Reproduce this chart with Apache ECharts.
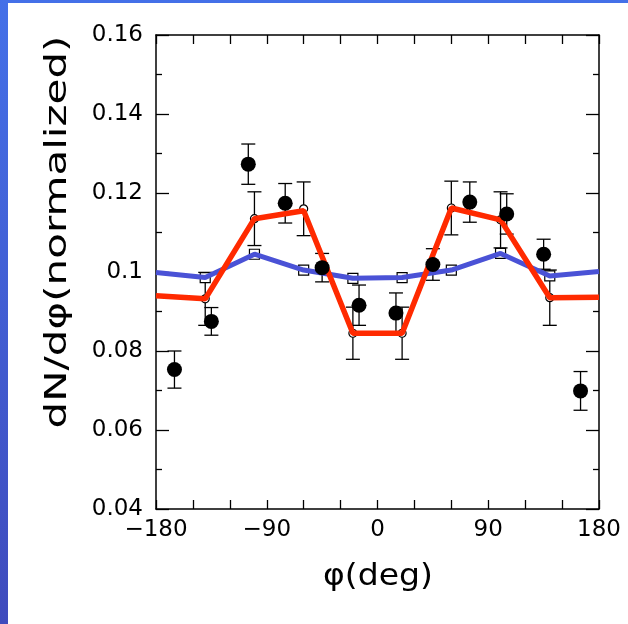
<!DOCTYPE html>
<html>
<head>
<meta charset="utf-8">
<script src="https://cdn.jsdelivr.net/npm/echarts@6/dist/echarts.min.js"></script>
<style>
html,body{margin:0;padding:0;width:628px;height:624px;overflow:hidden;}
body{background:linear-gradient(to bottom,#4470e8,#3f4bbd);}
#panel{position:absolute;left:8px;top:3px;right:0;bottom:0;background:#fff;}
#chart{position:absolute;left:0;top:0;width:628px;height:624px;}
</style>
</head>
<body>
<div id="panel"></div>
<div id="chart"></div>
<script>
// measured data (black dots)
var dataPhi = [-165,-135,-105,-75,-45,-15,15,45,75,105,135,165];
var dataVal = [0.0753,0.0875,0.1273,0.1174,0.1011,0.0916,0.0896,0.1019,0.1177,0.1147,0.1045,0.0699];
var dataErr = [0.0047,0.0035,0.0051,0.0050,0.0036,0.0051,0.0051,0.0040,0.0051,0.0051,0.0038,0.0049];

// model points (40 deg bins)
var modelPhi = [-140,-100,-60,-20,20,60,100,140];
var redVal = [0.0932,0.1135,0.1160,0.0845,0.0845,0.1162,0.1132,0.0935];
var redErr = [0.0067,0.0068,0.0068,0.0066,0.0066,0.0068,0.0071,0.0070];
var blueVal = [0.0986,0.1045,0.1005,0.0984,0.0986,0.1005,0.1047,0.0990];

// line ends at +-180
var linePhi = [-180,-140,-100,-60,-20,20,60,100,140,180];
var redLine = [0.0940,0.0932,0.1135,0.1155,0.0845,0.0845,0.1162,0.1132,0.0935,0.0936];
var blueLine = [0.0999,0.0986,0.1045,0.1005,0.0984,0.0986,0.1005,0.1047,0.0990,0.1001];

var yTicks = ['0.04','0.06','0.08','0.1','0.12','0.14','0.16'];

function zip(a,b){ var r=[]; for(var i=0;i<a.length;i++) r.push([a[i],b[i]]); return r; }
function errs(x,v,e){ var r=[]; for(var i=0;i<x.length;i++) r.push([x[i],v[i]-e[i],v[i]+e[i]]); return r; }

function errRender(params, api){
  var x=api.value(0), lo=api.value(1), hi=api.value(2);
  var a=api.coord([x,hi]), b=api.coord([x,lo]);
  var h=7, st={stroke:'#000',lineWidth:1.3};
  return {type:'group',children:[
    {type:'line',shape:{x1:a[0],y1:a[1],x2:b[0],y2:b[1]},style:st},
    {type:'line',shape:{x1:a[0]-h,y1:a[1],x2:a[0]+h,y2:a[1]},style:st},
    {type:'line',shape:{x1:b[0]-h,y1:b[1],x2:b[0]+h,y2:b[1]},style:st}
  ]};
}

var FONT = '"DejaVu Sans", sans-serif';
function fitScale(txt, size, target){
  var c=document.createElement('canvas').getContext('2d');
  c.font = size+'px "DejaVu Sans"';
  return target / c.measureText(txt).width;
}

var axisLine = {onZero:false,lineStyle:{color:'#000',width:1.5}};
var xBase = {
  type:'value', min:-180, max:180, interval:90,
  axisLine:axisLine, splitLine:{show:false},
  axisTick:{inside:true,length:9,lineStyle:{color:'#000',width:1.3}},
  minorTick:{show:true,splitNumber:3,length:9,lineStyle:{color:'#000',width:1.3}}
};
var yBase = {
  type:'value', min:0.04, max:0.16, interval:0.02,
  axisLine:axisLine, splitLine:{show:false},
  axisTick:{inside:true,length:13,lineStyle:{color:'#000',width:1.3}},
  minorTick:{show:true,splitNumber:2,length:6,lineStyle:{color:'#000',width:1.3}}
};

var myChart = echarts.init(document.getElementById('chart'));
var yTitle = 'dN/dφ(normalized)', xTitle = 'φ(deg)';
option = {
  animation:false,
  grid:{left:156,top:35,width:443,height:474},
  xAxis:[
    Object.assign({},xBase,{position:'bottom',axisLabel:{color:'#000',fontSize:23,fontFamily:FONT,margin:10,
      formatter:function(v){ return v<0 ? '\u2212'+(-v) : ''+v; }}}),
    Object.assign({},xBase,{position:'top',axisLabel:{show:false}})
  ],
  yAxis:[
    Object.assign({},yBase,{position:'left',axisLabel:{color:'#000',fontSize:23,fontFamily:FONT,margin:13,
      formatter:function(v){ return yTicks[Math.round((v-0.04)/0.02)]; }}}),
    Object.assign({},yBase,{position:'right',axisLabel:{show:false}})
  ],
  graphic:[
    {type:'text',x:58,y:232,rotation:Math.PI/2,scaleX:fitScale(yTitle,30,393),
     style:{text:yTitle,fontSize:30,fontFamily:FONT,fill:'#000',align:'center',verticalAlign:'middle',textAlign:'center',textVerticalAlign:'middle'}},
    {type:'text',x:378,y:577,scaleX:fitScale(xTitle,30,110),
     style:{text:xTitle,fontSize:30,fontFamily:FONT,fill:'#000',align:'center',verticalAlign:'middle',textAlign:'center',textVerticalAlign:'middle'}}
  ],
  series:[
    {type:'custom',renderItem:errRender,data:errs(modelPhi,redVal,redErr),z:2,silent:true},
    {type:'custom',renderItem:errRender,data:errs(dataPhi,dataVal,dataErr),z:2,silent:true},
    {type:'scatter',data:zip(modelPhi,blueVal),symbol:'rect',symbolSize:10,z:3,
     itemStyle:{color:'#fff',borderColor:'#000',borderWidth:1.2,opacity:1}},
    {type:'scatter',data:zip(modelPhi,redVal),symbol:'circle',symbolSize:8,z:3,
     itemStyle:{color:'#fff',borderColor:'#000',borderWidth:1.2,opacity:1}},
    {type:'line',data:zip(linePhi,blueLine),symbol:'none',z:4,
     lineStyle:{color:'#4a52d6',width:5}},
    {type:'line',data:zip(linePhi,redLine),symbol:'none',z:5,
     lineStyle:{color:'#ff2a00',width:5.5}},
    {type:'scatter',data:zip(dataPhi,dataVal),symbol:'circle',symbolSize:15,z:6,
     itemStyle:{color:'#000',opacity:1}}
  ]
};
myChart.setOption(option, true);
</script>
</body>
</html>
